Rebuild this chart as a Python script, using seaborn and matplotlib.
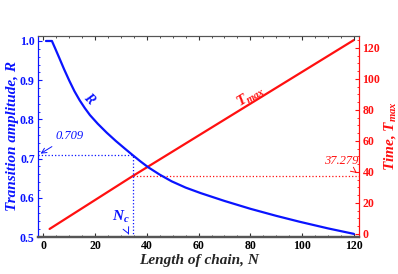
import numpy as np
import pandas as pd
import matplotlib
matplotlib.use('Agg')
import matplotlib.pyplot as plt
from matplotlib.ticker import MultipleLocator
import seaborn as sns

# values
chain_len = [1, 3.3, 4.5, 6.2, 8, 10, 12, 14, 16, 18, 21, 24.5, 28, 31.4, 34.5, 37.5,
             40.5, 45, 49.6, 55, 60.8, 70, 80, 90, 99, 110, 120]
amplitude = [1.0, 1.0, 0.982, 0.956, 0.928, 0.899, 0.872, 0.849, 0.829, 0.811, 0.789,
             0.766, 0.745, 0.726, 0.709, 0.693, 0.678, 0.659, 0.642, 0.626, 0.612,
             0.592, 0.572, 0.554, 0.539, 0.522, 0.508]
time_n = [2.4, 34.5, 120]
time_max = [3.2, 37.279, 125.0]
n_c = 34.5
r_c = 0.709
t_c = 37.279

blue = '#0a14ff'
red = '#ff1010'

sns.set_style('ticks')
plt.rcParams['font.family'] = ['Liberation Serif', 'DejaVu Serif']
plt.rcParams['mathtext.fontset'] = 'custom'
plt.rcParams['mathtext.it'] = 'Liberation Serif:italic:bold'
plt.rcParams['mathtext.rm'] = 'Liberation Serif:bold'

r_df = pd.DataFrame({'N': chain_len, 'R': amplitude})
t_df = pd.DataFrame({'N': time_n, 'T': time_max})

fig = plt.figure(figsize=(3.98, 2.74), dpi=100)
ax = fig.add_axes([0.096, 0.135, 0.806, 0.734])
ax2 = ax.twinx()

sns.lineplot(data=r_df, x='N', y='R', ax=ax, color=blue, lw=1.6)
sns.lineplot(data=t_df, x='N', y='T', ax=ax2, color=red, lw=1.6)

# dotted guide lines
ax.plot([-2, n_c], [r_c, r_c], ls=':', color=blue, lw=0.9)
ax.plot([n_c, n_c], [0.5, r_c], ls=':', color=blue, lw=0.9)
ax2.plot([n_c, 122], [t_c, t_c], ls=':', color=red, lw=0.9)

ax.set_xlim(-2, 122)
ax.set_ylim(0.5, 1.013)
ax2.set_ylim(-2, 127.7)

ax.xaxis.set_major_locator(MultipleLocator(20))
ax.xaxis.set_minor_locator(MultipleLocator(5))
ax.yaxis.set_major_locator(MultipleLocator(0.1))
ax.yaxis.set_minor_locator(MultipleLocator(0.02))
ax2.yaxis.set_major_locator(MultipleLocator(20))
ax2.yaxis.set_minor_locator(MultipleLocator(5))

ax.tick_params(axis='x', which='both', direction='in', top=True, colors='#333333',
               labelcolor='black', labelsize=8.5, pad=2.5)
ax.tick_params(axis='x', which='major', length=3)
ax.tick_params(axis='x', which='minor', length=1.5)
ax.tick_params(axis='y', which='both', direction='in', colors=blue, labelsize=8.5, pad=2.5)
ax.tick_params(axis='y', which='major', length=3)
ax.tick_params(axis='y', which='minor', length=1.5)
ax2.tick_params(axis='y', which='both', direction='in', colors=red, labelsize=8.5, pad=2.5)
ax2.tick_params(axis='y', which='major', length=3)
ax2.tick_params(axis='y', which='minor', length=1.5)
for lab in ax.get_xticklabels() + ax.get_yticklabels() + ax2.get_yticklabels():
    lab.set_fontweight('bold')

for a in (ax, ax2):
    a.spines['top'].set_color('#555555')
    a.spines['bottom'].set_color('#555555')
    a.spines['bottom'].set_linewidth(1.6)
    a.spines['top'].set_linewidth(0.8)
    a.spines['left'].set_color(blue)
    a.spines['left'].set_linewidth(0.8)
    a.spines['right'].set_color(red)
    a.spines['right'].set_linewidth(0.8)

ax.set_xlabel('Length of chain, N', fontsize=11, fontweight='bold', style='italic', labelpad=1)
ax.set_ylabel('Transition amplitude, R', fontsize=11, fontweight='bold', style='italic',
              color=blue, labelpad=1)
ax2.set_ylabel(r'Time, $T_{max}$', fontsize=11, fontweight='bold', style='italic',
               color=red, labelpad=1)

# curve labels
ax.text(17.5, 0.853, 'R', color=blue, fontsize=10, fontweight='bold', style='italic',
        rotation=-45, ha='center', va='center')
ax2.text(80, 89, r'$T_{max}$', color=red, fontsize=11, rotation=31,
         ha='center', va='center')

# annotations
ax.annotate('0.709', xy=(-2, r_c), xytext=(10, 0.758), color=blue, fontsize=9,
            style='italic', ha='center', va='center',
            arrowprops=dict(arrowstyle='->', color=blue, lw=0.7))
ax.annotate(r'$N_c$', xy=(n_c - 1, 0.5), xytext=(30, 0.55), color=blue, fontsize=11,
            ha='center', va='center',
            arrowprops=dict(arrowstyle='->', color=blue, lw=0.7, shrinkA=4))
ax2.annotate('37.279', xy=(122, t_c + 1), xytext=(115, 47), color=red, fontsize=9,
             style='italic', ha='center', va='center',
             arrowprops=dict(arrowstyle='->', color=red, lw=0.7))

ax.set_zorder(ax2.get_zorder() + 1)
ax.patch.set_visible(False)

fig.savefig('out.png', dpi=100)
